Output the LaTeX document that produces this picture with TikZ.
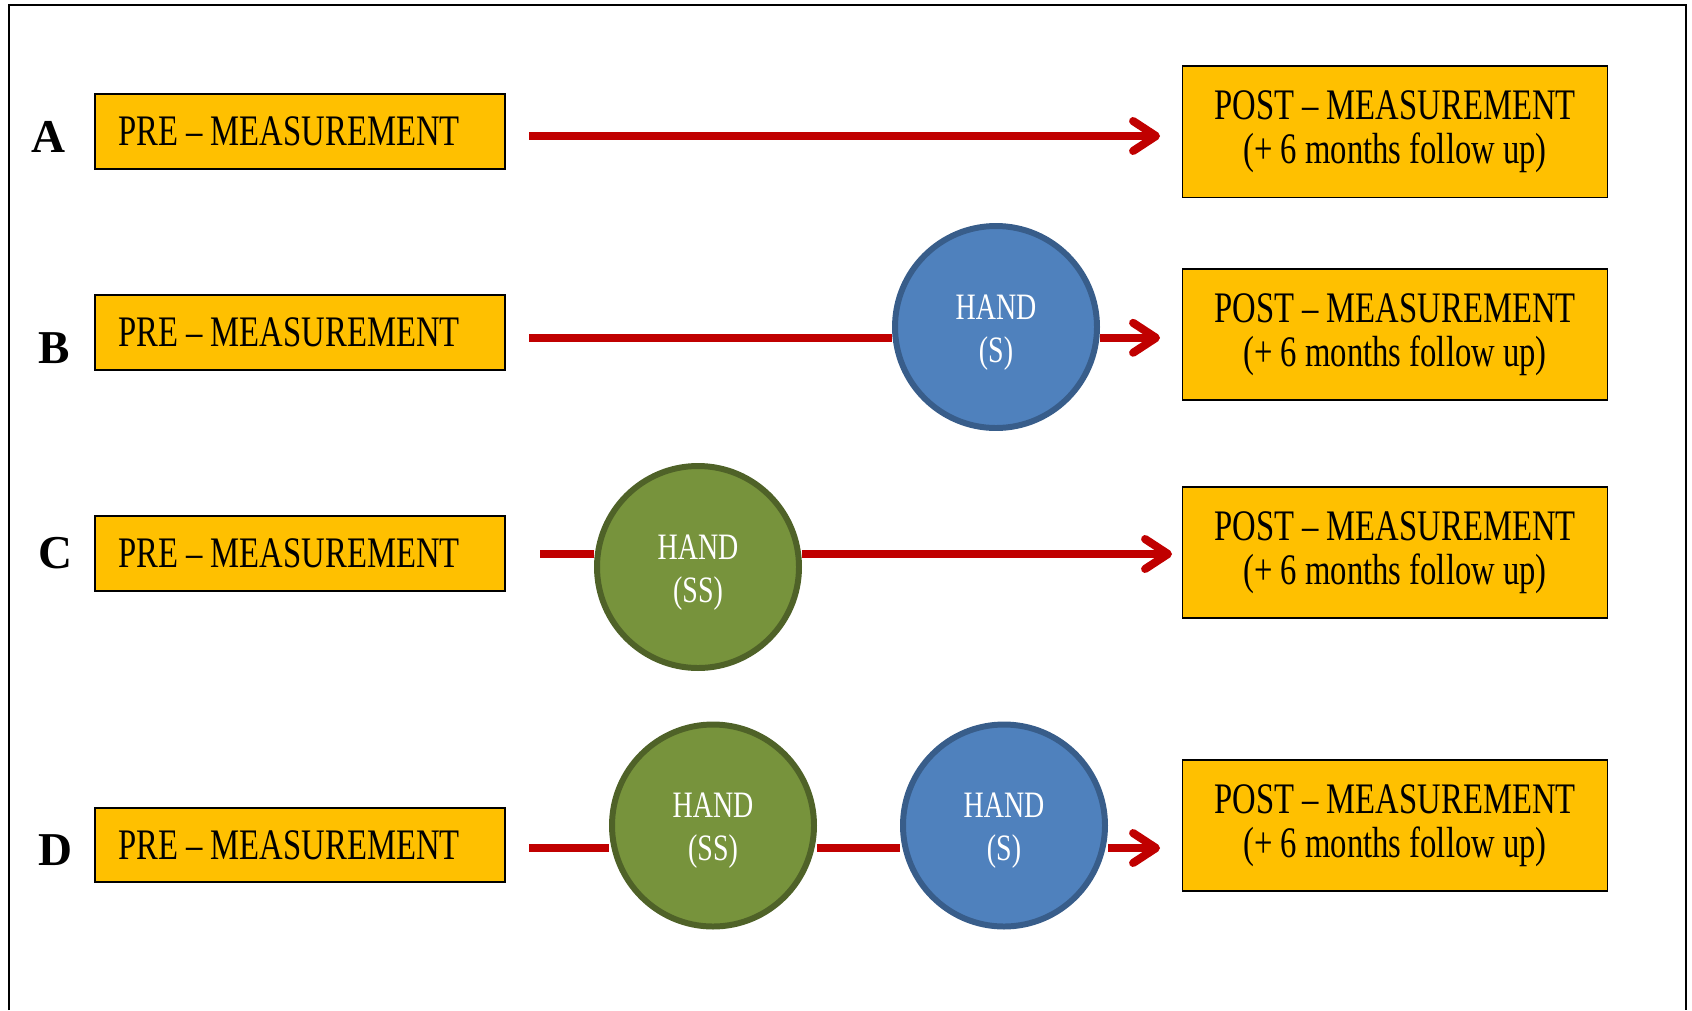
\documentclass[tikz,border=0pt]{standalone}
\usepackage{fontspec}
\setmainfont{Liberation Serif}[FakeStretch=0.75]
\newfontfamily\rowfont{Liberation Serif}
\usetikzlibrary{arrows.meta}
\definecolor{boxorange}{HTML}{FFC000}
\definecolor{flowred}{HTML}{C00000}
\definecolor{handgreen}{HTML}{77933C}
\definecolor{handgreenline}{HTML}{4F6228}
\definecolor{handblue}{HTML}{4F81BD}
\definecolor{handblueline}{HTML}{385D8A}
\tikzset{
  prebox/.style={draw, fill=boxorange, line width=0.5pt, minimum width=4.10cm, minimum height=0.745cm, inner sep=0pt, font=\fontsize{12.4}{12.5}\selectfont, execute at end node=\hspace{0.22cm}},
  postbox/.style={draw, fill=boxorange, line width=0.5pt, minimum width=4.25cm, minimum height=1.316cm, inner sep=0pt, align=center, font=\fontsize{12.4}{12.6}\selectfont},
  hand/.style={circle, line width=1.7pt, minimum size=2.02cm, inner sep=0pt, align=center, text=white, text height=7.8mm, font=\fontsize{10.6}{12.2}\selectfont},
  handS/.style={hand, draw=handblueline, fill=handblue},
  handSS/.style={hand, draw=handgreenline, fill=handgreen},
  rowlabel/.style={font={\rowfont\bfseries\fontsize{13.4}{14}\selectfont}},
  flow/.style={draw=flowred, line width=2.3pt},
  flowarrow/.style={flow, -{Straight Barb[length=6.5pt, width=8.5pt, round]}}
}
\begin{document}
\begin{tikzpicture}
		\useasboundingbox (0, 0) rectangle (16.92, -10.10);
		\draw[line width=0.6pt] (0.086, -10.10) -- (0.086, -0.054) -- (16.856, -0.054) -- (16.856, -10.10);
		\node[rowlabel] (labA) at (0.49, -1.37) {A};
		\node[rowlabel] (labB) at (0.54, -3.485) {B};
		\node[rowlabel] (labC) at (0.56, -5.536) {C};
		\node[rowlabel] (labD) at (0.56, -8.50) {D};
		\node[prebox] (preA) at (3.00, -1.316) {PRE – MEASUREMENT};
		\node[prebox] (preB) at (3.00, -3.324) {PRE – MEASUREMENT};
		\node[prebox] (preC) at (3.00, -5.536) {PRE – MEASUREMENT};
		\node[prebox] (preD) at (3.00, -8.45) {PRE – MEASUREMENT};
		\node[postbox] (postA) at (13.95, -1.316) {POST – MEASUREMENT\\(+ 6 months follow up)};
		\node[postbox] (postB) at (13.95, -3.345) {POST – MEASUREMENT\\(+ 6 months follow up)};
		\node[postbox] (postC) at (13.95, -5.525) {POST – MEASUREMENT\\(+ 6 months follow up)};
		\node[postbox] (postD) at (13.95, -8.255) {POST – MEASUREMENT\\(+ 6 months follow up)};
		\node[handS] (handB) at (9.96, -3.27) {HAND\\(S)};
		\node[handSS] (handC) at (6.98, -5.67) {HAND\\(SS)};
		\node[handSS] (handDss) at (7.13, -8.255) {HAND\\(SS)};
		\node[handS] (handDs) at (10.04, -8.255) {HAND\\(S)};
		\coordinate (startA) at (5.29, -1.36);
		\coordinate (endA) at (11.60, -1.36);
		\coordinate (startB) at (5.29, -3.378);
		\coordinate (endB) at (11.60, -3.378);
		\coordinate (startC) at (5.40, -5.54);
		\coordinate (endC) at (11.72, -5.54);
		\coordinate (startD) at (5.29, -8.48);
		\coordinate (endD) at (11.60, -8.48);
		\draw[flowarrow] (startA) -- (endA);
		\draw[flow] (startB) -- (startB -| handB.west);
		\draw[flowarrow] (handB.east |- startB) -- (endB);
		\draw[flow] (startC) -- (startC -| handC.west);
		\draw[flowarrow] (handC.east |- startC) -- (endC);
		\draw[flow] (startD) -- (startD -| handDss.west);
		\draw[flow] (handDss.east |- startD) -- (handDs.west |- startD);
		\draw[flowarrow] (handDs.east |- startD) -- (endD);
	\end{tikzpicture}
\end{document}
